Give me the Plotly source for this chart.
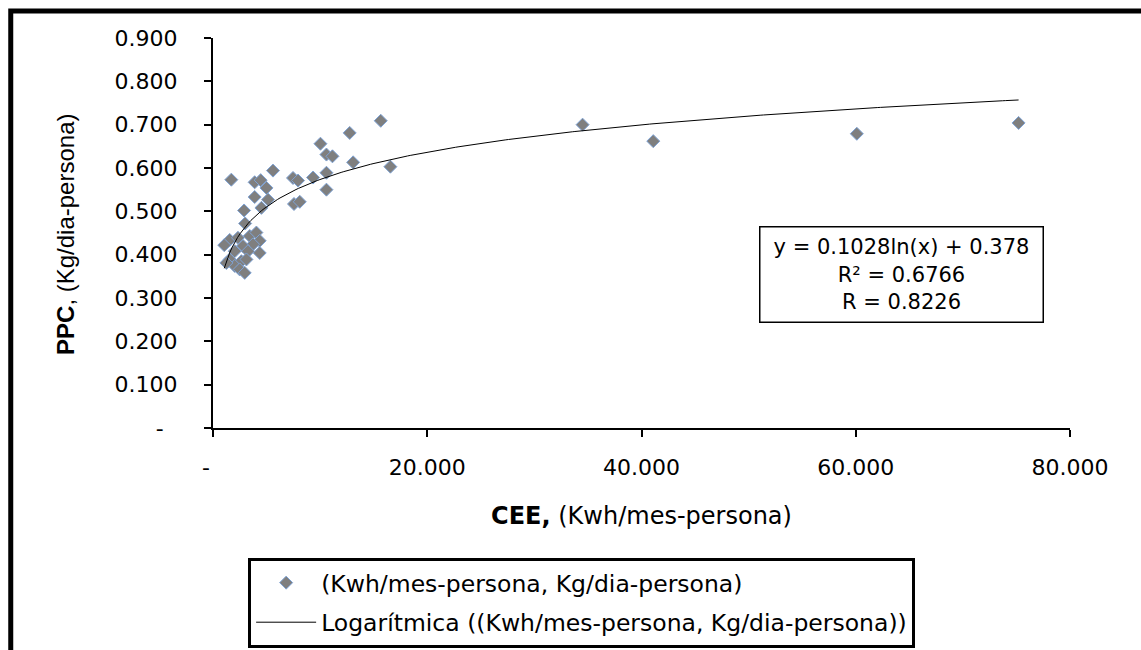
import numpy as np
import plotly.graph_objects as go

# CEE (Kwh/mes-persona) and PPC (Kg/dia-persona)
cee = [15.66, 12.76, 10.03, 10.59, 11.15, 13.08, 16.56, 5.60, 1.71, 3.89,
       4.45, 7.47, 7.94, 9.34, 10.59, 10.59, 4.99, 3.89, 5.14, 4.52,
       7.56, 8.10, 2.90, 3.00, 34.50, 41.10, 60.10, 75.20,
       1.56, 1.05, 2.33, 3.43, 4.05, 4.36, 3.74, 4.36, 2.80, 3.27,
       2.03, 1.56, 2.65, 2.03, 2.49, 2.96, 1.25, 3.12]
ppc = [0.709, 0.681, 0.656, 0.631, 0.627, 0.613, 0.603, 0.594, 0.573, 0.567,
       0.572, 0.577, 0.571, 0.578, 0.589, 0.550, 0.554, 0.533, 0.527, 0.508,
       0.517, 0.522, 0.502, 0.472, 0.700, 0.662, 0.679, 0.704,
       0.434, 0.422, 0.439, 0.443, 0.451, 0.432, 0.424, 0.404, 0.420, 0.408,
       0.408, 0.389, 0.385, 0.374, 0.366, 0.358, 0.381, 0.389]

NB = "\u00a0"
x_tickvals = [0, 20, 40, 60, 80]
x_ticktext = ["-" + NB * 2, "20.000", "40.000", "60.000", "80.000"]
y_tickvals = [0, 0.1, 0.2, 0.3, 0.4, 0.5, 0.6, 0.7, 0.8, 0.9]
y_ticktext = ["-" + NB * 2, "0.100", "0.200", "0.300", "0.400", "0.500",
              "0.600", "0.700", "0.800", "0.900"]

eq_text = "y = 0.1028ln(x) + 0.378<br>R² = 0.6766<br>R = 0.8226"
series_name = "(Kwh/mes-persona, Kg/dia-persona)"
trend_name = "Logarítmica ((Kwh/mes-persona, Kg/dia-persona))"
x_title = "<b>CEE,</b> (Kwh/mes-persona)"
y_title = "<b>PPC</b>, (Kg/dia-persona)"

# logarithmic trendline fitted to the data
xa = np.array(cee)
ya = np.array(ppc)
a, b = np.polyfit(np.log(xa), ya, 1)
xt = np.linspace(xa.min(), xa.max(), 300)
yt = a * np.log(xt) + b

WIDE = "DejaVu Sans, Verdana, sans-serif"

fig = go.Figure()
fig.add_trace(go.Scatter(
    x=cee, y=ppc, mode="markers", name=series_name, legendgroup="g1",
    marker=dict(symbol="diamond", size=10, color="#7f7f7f",
                line=dict(color="#7ea3d6", width=1)),
))
fig.add_trace(go.Scatter(
    x=xt, y=yt, mode="lines", name=trend_name, legendgroup="g2",
    line=dict(color="black", width=1),
))

fig.update_layout(
    width=1141, height=650,
    margin=dict(l=213, r=71, t=38, b=222, autoexpand=False),
    paper_bgcolor="white", plot_bgcolor="white",
    showlegend=True,
    legend=dict(
        x=0.041, y=-0.333, xanchor="left", yanchor="top",
        bordercolor="black", borderwidth=3,
        font=dict(family=WIDE, size=23.5, color="black"),
        itemwidth=60, tracegroupgap=6, traceorder="grouped",
    ),
    xaxis=dict(
        range=[0, 80], tickvals=x_tickvals, ticktext=x_ticktext,
        showgrid=False, zeroline=False,
        showline=True, linecolor="black", linewidth=2,
        ticks="outside", ticklen=7, tickwidth=2, tickcolor="black",
        ticklabelstandoff=12,
        tickfont=dict(family=WIDE, size=22, color="black"),
        title=dict(text=x_title, standoff=28,
                   font=dict(family=WIDE, size=24, color="black")),
    ),
    yaxis=dict(
        range=[0, 0.9], tickvals=y_tickvals, ticktext=y_ticktext,
        showgrid=False, zeroline=False,
        showline=True, linecolor="black", linewidth=2,
        ticks="outside", ticklen=7, tickwidth=2, tickcolor="black",
        ticklabelstandoff=22,
        tickfont=dict(family=WIDE, size=22, color="black"),
    ),
    annotations=[
        dict(
            xref="paper", yref="paper", x=0.803, y=0.3936,
            xanchor="center", yanchor="middle",
            text=eq_text, showarrow=False, align="center",
            width=272, height=84, valign="middle",
            font=dict(family=WIDE, size=21, color="black"),
            bordercolor="black", borderwidth=1.5, borderpad=5, bgcolor="white",
        ),
        dict(
            xref="paper", yref="paper", x=-0.1715, y=0.495,
            xanchor="center", yanchor="middle", textangle=-90,
            text=y_title, showarrow=False,
            font=dict(family="Liberation Sans, Arial, sans-serif", size=24, color="black"),
        ),
    ],
    shapes=[dict(
        type="rect", xref="paper", yref="paper",
        x0=-0.236, x1=2.0, y0=-2.0, y1=1.069,
        line=dict(color="black", width=5), fillcolor="rgba(0,0,0,0)",
        layer="above",
    )],
)

fig.write_html("out.html")
